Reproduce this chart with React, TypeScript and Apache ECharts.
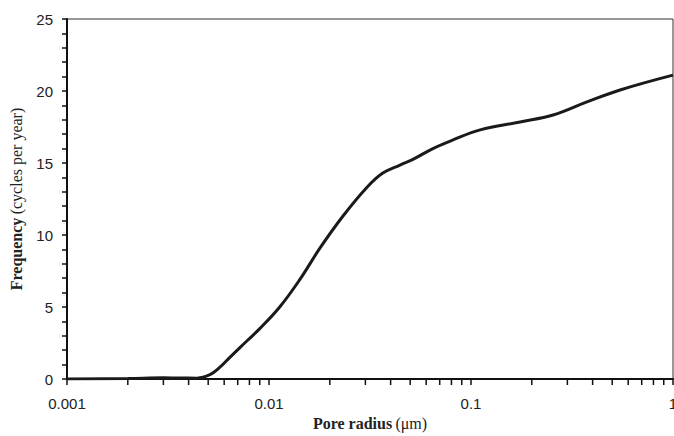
import React, { useEffect, useRef } from "react";
import * as echarts from "echarts";

const radius = [0.001, 0.002, 0.003, 0.0037, 0.0044, 0.0051, 0.0057, 0.0064, 0.0072, 0.009, 0.0113, 0.0142, 0.0179, 0.0232, 0.0305, 0.0366, 0.0445, 0.0516, 0.0648, 0.0815, 0.111, 0.175, 0.255, 0.375, 0.547, 1];
const frequency = [0, 0.03, 0.08, 0.07, 0.06, 0.3, 0.8, 1.5, 2.2, 3.5, 5.0, 6.9, 9.1, 11.3, 13.3, 14.3, 14.86, 15.25, 16.0, 16.6, 17.3, 17.85, 18.33, 19.24, 20.07, 21.1];
const xTickValues = [0.001, 0.002, 0.003, 0.004, 0.005, 0.006, 0.007, 0.008, 0.009, 0.01, 0.02, 0.03, 0.04, 0.05, 0.06, 0.07, 0.08, 0.09, 0.1, 0.2, 0.3, 0.4, 0.5, 0.6, 0.7, 0.8, 0.9, 1];
const xLabelValues = [0.001, 0.01, 0.1, 1];

export default function App() {
  const ref = useRef<HTMLDivElement>(null);
  useEffect(() => {
    if (!ref.current) return;
    const chart = echarts.init(ref.current, undefined, { renderer: "svg" });
    const textColor = "#222";
    chart.setOption({
      animation: false,
      grid: { left: 67, right: 1, top: 19, bottom: 57, show: true, borderColor: "#333", borderWidth: 1, outerBoundsMode: "none", containLabel: false },
      xAxis: {
        type: "log",
        min: 0.001,
        max: 1,
        logBase: 10,
        name: "{b|Pore radius} {n|(\u03bcm)}",
        nameLocation: "middle",
        nameGap: 36,
        nameTextStyle: {
          rich: {
            b: { fontFamily: "Liberation Serif", fontWeight: "bold", fontSize: 16, color: textColor },
            n: { fontFamily: "Liberation Serif", fontSize: 16, color: textColor },
          },
        },
        axisLine: { lineStyle: { color: "#111", width: 2 } },
        axisTick: { show: false },
        axisLabel: {
          customValues: xLabelValues,
          formatter: (v: number) => String(v),
          fontFamily: "Liberation Sans",
          fontSize: 15,
          color: textColor,
          margin: 17,
          showMaxLabel: true,
        },
        splitLine: { show: false },
        minorTick: { show: false },
      },
      yAxis: {
        type: "value",
        min: 0,
        max: 25,
        interval: 5,
        name: "{b|Frequency} {n|(cycles per year)}",
        nameLocation: "middle",
        nameGap: 43,
        nameTextStyle: {
          rich: {
            b: { fontFamily: "Liberation Serif", fontWeight: "bold", fontSize: 16, color: textColor },
            n: { fontFamily: "Liberation Serif", fontSize: 16, color: textColor },
          },
        },
        axisLine: { show: true, lineStyle: { color: "#111", width: 2 } },
        axisTick: { show: true, length: 5, inside: false, lineStyle: { color: "#111", width: 1.5 } },
        minorTick: { show: true, splitNumber: 5, length: 5, lineStyle: { color: "#111", width: 1.5 } },
        axisLabel: { fontFamily: "Liberation Sans", fontSize: 15, color: textColor, margin: 14 },
        splitLine: { show: false },
      },
      series: [
        {
          type: "line",
          data: radius.map((r, i) => [r, frequency[i]]),
          showSymbol: false,
          smooth: 0.4,
          lineStyle: { color: "#1a1a1a", width: 3 },
          z: 3,
        },
        {
          type: "custom",
          clip: false,
          silent: true,
          data: xTickValues.map((v) => [v, 0]),
          renderItem: (params: any, api: any) => {
            const p = api.coord([api.value(0), 0]);
            return {
              type: "line",
              shape: { x1: p[0], y1: p[1], x2: p[0], y2: p[1] + 6 },
              style: { stroke: "#111", lineWidth: 1.5 },
            };
          },
          z: 4,
        },
      ],
    });
    return () => chart.dispose();
  }, []);
  return <div ref={ref} style={{ width: 674, height: 436, position: "absolute", left: 0, top: 0 }} />;
}
